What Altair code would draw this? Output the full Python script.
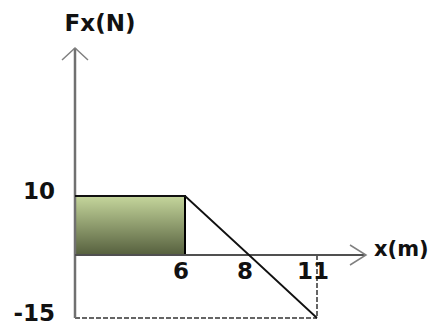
import altair as alt
import pandas as pd

# ---- data ----
force_x = [0, 6, 8, 11]
force_F = [10, 10, 0, -15]
work_x = [0, 6]
work_F = [0, 10]
x_tick_values = [6, 8, 11]
x_tick_labels = ["6", "8", "11"]
y_tick_values = [10, -15]
y_tick_labels = ["10", "-15"]
x_axis_end = 13
y_axis_top = 35
x_title = "x(m)"
y_title = "Fx(N)"

# piecewise scales (the drawing is not to scale)
xs = alt.Scale(domain=[0, 6, 8, 11, 13], range=[67, 177, 241, 309, 358], zero=False, nice=False)
ys = alt.Scale(domain=[-15, 0, 10, 35], range=[310, 247, 188, 40], zero=False, nice=False)

FONT = "DejaVu Sans"


def X(field="x"):
    return alt.X(f"{field}:Q", scale=xs, axis=None)


def Y(field="y"):
    return alt.Y(f"{field}:Q", scale=ys, axis=None)


# shaded work rectangle
rect_df = pd.DataFrame({"x": [work_x[0]], "x2": [work_x[1]], "y": [work_F[0]], "y2": [work_F[1]]})
grad = alt.LinearGradient(
    gradient="linear",
    stops=[alt.GradientStop(color="#c5d69c", offset=0), alt.GradientStop(color="#56603e", offset=1)],
    x1=0, x2=0, y1=0, y2=1,
)
rect = alt.Chart(rect_df).mark_rect(fill=grad, stroke="#000000", strokeWidth=2).encode(
    x=X(), x2="x2:Q", y=Y(), y2="y2:Q"
)

# force curve
f_df = pd.DataFrame({"x": force_x, "y": force_F, "o": list(range(len(force_x)))})
fline = alt.Chart(f_df).mark_line(color="#111111", strokeWidth=1.8).encode(
    x=X(), y=Y(), order="o:Q"
)

# dashed guide lines
dash_df = pd.DataFrame({
    "x": [0, force_x[-1]], "x2": [force_x[-1], force_x[-1]],
    "y": [force_F[-1], 0], "y2": [force_F[-1], force_F[-1]],
})
dashes = alt.Chart(dash_df).mark_rule(color="#333333", strokeWidth=1.5, strokeDash=[5, 2]).encode(
    x=X(), x2="x2:Q", y=Y(), y2="y2:Q"
)

# axes
yaxis_df = pd.DataFrame({"x": [0], "y": [-15], "y2": [y_axis_top]})
yaxis = alt.Chart(yaxis_df).mark_rule(color="#707070", strokeWidth=2.5).encode(
    x=X(), y=Y(), y2="y2:Q"
)
xaxis_df = pd.DataFrame({"x": [0], "x2": [x_axis_end], "y": [0]})
xaxis = alt.Chart(xaxis_df).mark_rule(color="#505050", strokeWidth=2).encode(
    x=X(), x2="x2:Q", y=Y()
)

# arrow heads
yarrow = alt.Chart(pd.DataFrame({"x": [0], "y": [y_axis_top]})).mark_point(
    shape="M -1 0.92 L 0 0 L 1 0.92", size=676, filled=False, stroke="#808080",
    strokeWidth=1.5, opacity=1
).encode(x=X(), y=Y())
xarrow = alt.Chart(pd.DataFrame({"x": [x_axis_end], "y": [0]})).mark_point(
    shape="M -1 -0.625 L 0 0 L -1 0.625", size=1024, filled=False, stroke="#808080",
    strokeWidth=1.5, opacity=1
).encode(x=X(), y=Y())

# tick labels
xl_df = pd.DataFrame({"x": x_tick_values, "y": [0] * len(x_tick_values), "t": x_tick_labels})
xlabels = alt.Chart(xl_df).mark_text(
    font=FONT, fontWeight="bold", fontSize=23, color="#111111",
    align="center", baseline="middle", dy=17, dx=-4
).encode(x=X(), y=Y(), text="t:N")

yl_df = pd.DataFrame({"x": [0] * len(y_tick_values), "y": y_tick_values, "t": y_tick_labels})
ylabels = alt.Chart(yl_df).mark_text(
    font=FONT, fontWeight="bold", fontSize=23, color="#111111",
    align="right", baseline="middle", dx=-20, dy=-4
).encode(x=X(), y=Y(), text="t:N")

# axis titles
yt = alt.Chart(pd.DataFrame({"x": [0], "y": [y_axis_top], "t": [y_title]})).mark_text(
    font=FONT, fontWeight="bold", fontSize=23, color="#111111",
    align="center", baseline="middle", dx=25, dy=-24
).encode(x=X(), y=Y(), text="t:N")
xt = alt.Chart(pd.DataFrame({"x": [x_axis_end], "y": [0], "t": [x_title]})).mark_text(
    font=FONT, fontWeight="bold", fontSize=21, color="#111111",
    align="left", baseline="middle", dx=8, dy=-5
).encode(x=X(), y=Y(), text="t:N")

chart = alt.layer(
    rect, dashes, yaxis, xaxis, fline, yarrow, xarrow, xlabels, ylabels, yt, xt
).properties(
    width=424, height=315, padding=0, autosize="none", background="white"
).configure_view(stroke=None)

chart.save("out.html", embed_options={"renderer": "svg", "actions": False})
